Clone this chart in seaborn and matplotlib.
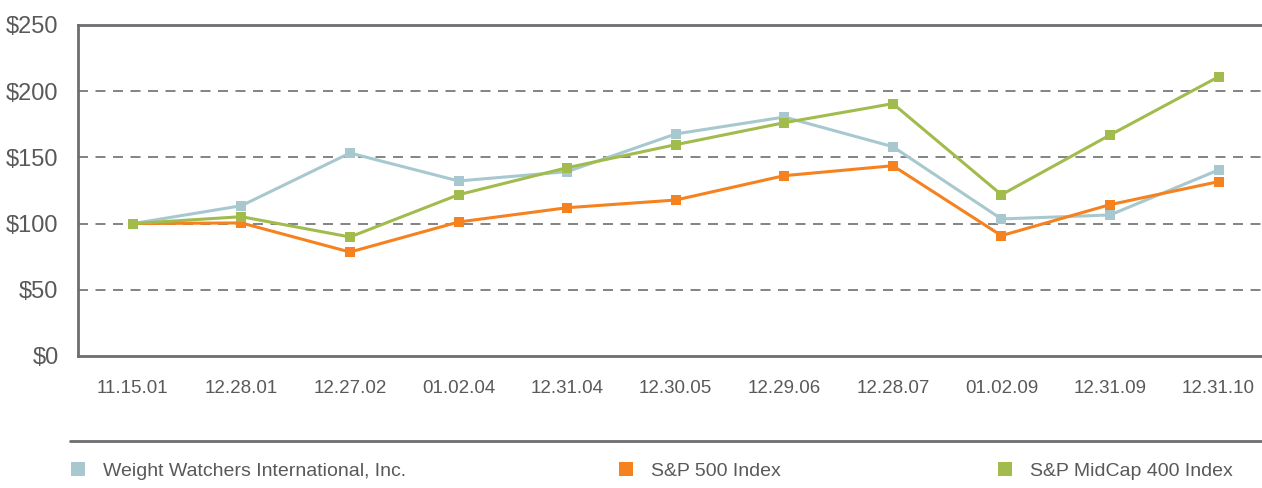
import pandas as pd
import matplotlib
matplotlib.use("Agg")
import matplotlib.pyplot as plt
import seaborn as sns
from matplotlib.lines import Line2D

# fechas del eje x
dates = ["11.15.01", "12.28.01", "12.27.02", "01.02.04", "12.31.04", "12.30.05",
         "12.29.06", "12.28.07", "01.02.09", "12.31.09", "12.31.10"]

series_names = ["Weight Watchers International, Inc.", "S&P 500 Index", "S&P MidCap 400 Index"]
ww_values = [100, 113.5, 153.3, 132.2, 139.2, 167.7, 180.5, 158.1, 103.5, 106.5, 140.5]
sp500_values = [100, 100.5, 78.5, 101.2, 112.0, 117.8, 136.2, 143.7, 90.9, 114.3, 131.7]
midcap_values = [100, 105.2, 89.9, 121.8, 142.2, 159.6, 176.2, 190.6, 121.8, 166.9, 210.9]
y_ticks = [0, 50, 100, 150, 200, 250]

colors = ["#A8C8D0", "#F5821F", "#A2BB4D"]
grey = "#6D6E71"
text_grey = "#58595B"

sns.set_style("white")
plt.rcParams['font.family'] = ['Liberation Sans', 'DejaVu Sans']

rows = []
for name, vals in zip(series_names, [ww_values, sp500_values, midcap_values]):
    for i, v in enumerate(vals):
        rows.append({"idx": i, "value": v, "series": name})
df = pd.DataFrame(rows)

fig = plt.figure(figsize=(12.62, 4.88), dpi=100)
ax = fig.add_axes([0.0618, 0.2705, 0.9382, 0.6783])

sns.lineplot(data=df, x="idx", y="value", hue="series", palette=colors,
             marker="s", markersize=6.5, markeredgewidth=0, linewidth=2.2,
             legend=False, ax=ax)

ax.set_xlim(-0.505, 10.4)
ax.set_ylim(0, 250)
ax.set_xticks(range(len(dates)))
ax.set_xticklabels(dates, fontsize=13.5, color=text_grey)
ax.set_yticks(y_ticks)
ax.set_yticklabels([f"${t}" for t in y_ticks], fontsize=17, color=text_grey)
ax.set_xlabel("")
ax.set_ylabel("")

for t in [50, 100, 150, 200]:
    ax.axhline(t, color=grey, linewidth=1.2, linestyle=(0, (6, 4.5)), zorder=0)

for side in ["left", "top", "bottom"]:
    ax.spines[side].set_color(grey)
    ax.spines[side].set_linewidth(2)
ax.spines["right"].set_visible(False)

ax.tick_params(axis="x", direction="in", length=7, width=2, color=grey, pad=17)
ax.tick_params(axis="y", length=0, pad=14)

# linea separadora del pie
fig.add_artist(Line2D([0.0555, 1.0], [0.0963, 0.0963], transform=fig.transFigure,
                      color=grey, linewidth=2))

# leyenda manual en tres columnas
legend_x = [0.0555, 0.4895, 0.79]
for name, c, lx in zip(series_names, colors, legend_x):
    h = Line2D([], [], marker="s", linestyle="none", markersize=10, color=c, markeredgewidth=0)
    leg = fig.legend([h], [name], loc="center left", bbox_to_anchor=(lx, 0.035),
                     frameon=False, fontsize=14, handletextpad=0.9, handlelength=0.8,
                     borderaxespad=0, borderpad=0)
    for txt in leg.get_texts():
        txt.set_color(text_grey)

fig.savefig("out.png", dpi=100)
